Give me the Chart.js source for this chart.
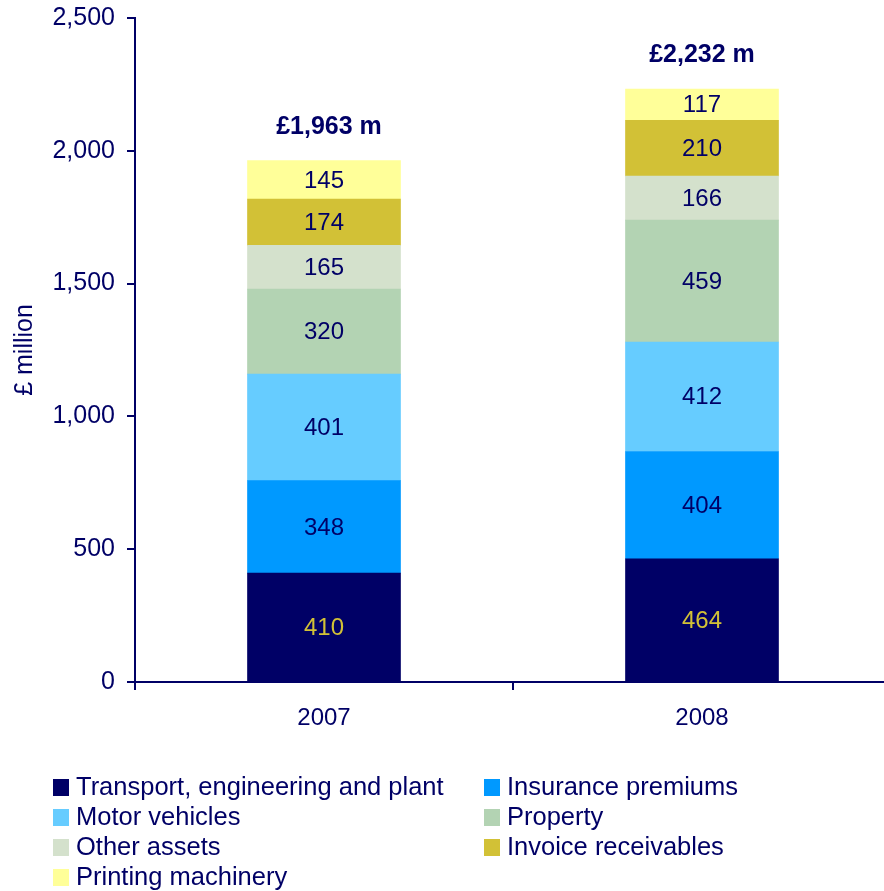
<!DOCTYPE html>
<html>
<head>
<meta charset="utf-8">
<script src="https://cdn.jsdelivr.net/npm/chart.js@4.4.0/dist/chart.umd.min.js"></script>
<style>
  html, body { margin: 0; padding: 0; background: #fff; overflow: hidden; }
  canvas { display: block; }
</style>
</head>
<body>
<canvas id="chart" width="891" height="891"></canvas>
<script>
// data
var years = ['2007', '2008'];
var seriesNames = [
    'Transport, engineering and plant',
    'Insurance premiums',
    'Motor vehicles',
    'Property',
    'Other assets',
    'Invoice receivables',
    'Printing machinery'
];
var transport = [410, 464];
var insurance = [348, 404];
var motor = [401, 412];
var property = [320, 459];
var otherAssets = [165, 166];
var invoice = [174, 210];
var printing = [145, 117];
var totals = [1963, 2232];
var yTicks = [0, 500, 1000, 1500, 2000, 2500];

var navy = '#000066';
var gold = '#D2C136';
var colours = ['#000066', '#0099FF', '#66CCFF', '#B3D3B3', '#D4E1CC', '#D2C136', '#FFFF99'];
var FONT = '"Liberation Sans", Arial, sans-serif';

var values = [transport, insurance, motor, property, otherAssets, invoice, printing];
var datasets = values.map(function(v, i) {
    return {
        label: seriesNames[i],
        data: v,
        backgroundColor: colours[i],
        borderWidth: 0,
        barThickness: 153
    };
});

// labels in segments + totals on top
var labelsPlugin = {
    id: 'segLabels',
    afterDatasetsDraw: function(chart) {
        var ctx = chart.ctx;
        ctx.save();
        ctx.textAlign = 'center';
        ctx.textBaseline = 'middle';
        ctx.font = '24px ' + FONT;
        chart.data.datasets.forEach(function(ds, i) {
            var meta = chart.getDatasetMeta(i);
            meta.data.forEach(function(bar, j) {
                ctx.fillStyle = i === 0 ? gold : navy;
                ctx.fillText(ds.data[j], bar.x, (bar.y + bar.base) / 2 + 1);
            });
        });
        var y = chart.scales.y;
        var x = chart.scales.x;
        ctx.font = 'bold 25px ' + FONT;
        ctx.fillStyle = navy;
        totals.forEach(function(t, j) {
            ctx.fillText('£' + t.toLocaleString('en-GB') + ' m', x.getPixelForValue(j) + (j === 0 ? 5 : 0), y.getPixelForValue(t) - 34);
        });
        ctx.restore();
    }
};

// two-column legend under the axis
var legendPlugin = {
    id: 'gridLegend',
    afterDraw: function(chart) {
        var ctx = chart.ctx;
        var top = chart.chartArea.bottom + 105;
        ctx.save();
        ctx.font = '25.5px ' + FONT;
        ctx.textBaseline = 'middle';
        ctx.textAlign = 'left';
        seriesNames.forEach(function(name, i) {
            var col = i % 2, row = Math.floor(i / 2);
            var bx = col === 0 ? 53 : 484;
            var cy = top + row * 30;
            ctx.fillStyle = colours[i];
            ctx.fillRect(bx, cy - 8, 16, 17);
            ctx.fillStyle = navy;
            ctx.fillText(name, bx + 23, cy + 1);
        });
        ctx.restore();
    }
};

new Chart(document.getElementById('chart'), {
    type: 'bar',
    data: {
        labels: years,
        datasets: datasets
    },
    options: {
        responsive: false,
        animation: false,
        layout: {
            padding: { top: 18, right: 0, bottom: 129, left: 0 }
        },
        plugins: {
            legend: { display: false },
            tooltip: { enabled: false }
        },
        scales: {
            x: {
                stacked: true,
                offset: true,
                afterFit: function(s) {
                    s.height = 80;
                    s.paddingLeft = 0;
                    s.paddingRight = 0;
                },
                border: { display: true, color: navy, width: 2 },
                grid: {
                    offset: true,
                    drawOnChartArea: false,
                    drawTicks: true,
                    tickLength: 8,
                    color: navy,
                    lineWidth: 2
                },
                ticks: {
                    color: navy,
                    padding: 14,
                    font: { family: FONT, size: 24 }
                }
            },
            y: {
                stacked: true,
                min: 0,
                max: 2500,
                afterFit: function(s) {
                    s.width = 135;
                    s.paddingTop = 0;
                    s.paddingBottom = 0;
                },
                afterBuildTicks: function(s) {
                    s.ticks = yTicks.map(function(v) { return { value: v }; });
                },
                border: { display: true, color: navy, width: 2 },
                grid: {
                    drawOnChartArea: false,
                    drawTicks: true,
                    tickLength: 8,
                    color: navy,
                    lineWidth: 2
                },
                ticks: {
                    color: navy,
                    padding: 12,
                    font: { family: FONT, size: 25 },
                    callback: function(v) { return v.toLocaleString('en-GB'); }
                },
                title: {
                    display: true,
                    text: '£ million',
                    color: navy,
                    padding: { top: 10, bottom: 0 },
                    font: { family: FONT, size: 25 }
                }
            }
        }
    },
    plugins: [labelsPlugin, legendPlugin]
});
</script>
</body>
</html>
